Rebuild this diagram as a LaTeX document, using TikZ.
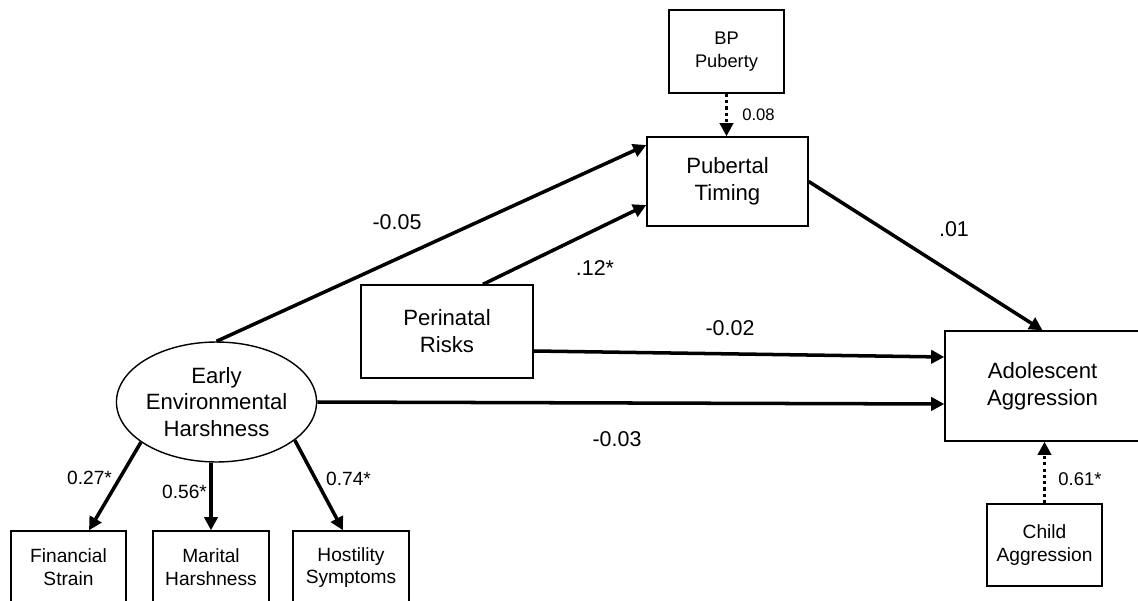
\documentclass[tikz,border=0pt]{standalone}
\usepackage{fontspec}
\setmainfont{Liberation Sans}
\usetikzlibrary{shapes.geometric,arrows.meta}

\tikzset{
  box/.style={draw, line width=0.8pt, rectangle, inner sep=0pt, align=center},
  bigtxt/.style={font=\fontsize{12.6}{15.3}\selectfont},
  smalltxt/.style={font=\fontsize{10.9}{13}\selectfont},
  path/.style={line width=2pt, -{Triangle[length=7.5pt,width=7.5pt]}},
  dotpath/.style={line width=2pt, dash pattern=on 1.8pt off 1.8pt, -{Triangle[length=7.5pt,width=7.5pt]}},
  coef/.style={font=\fontsize{12.2}{14}\selectfont, inner sep=0pt},
  loading/.style={font=\fontsize{10.9}{13}\selectfont, inner sep=0pt},
}

\begin{document}
\begin{tikzpicture}[x=0.02cm, y=-0.02cm]
\useasboundingbox (0,0) rectangle (1138,601);

% observed and latent variables
\node[box, font=\fontsize{10.4}{13}\selectfont, minimum width=2.3cm, minimum height=1.66cm] (bp) at (726.5,51.5) {BP\\Puberty};
\node[box, bigtxt, minimum width=3.22cm, minimum height=1.78cm] (pub) at (727.5,181.5) {Pubertal\\Timing};
\node[box, bigtxt, minimum width=3.44cm, minimum height=1.86cm] (per) at (447,331.5) {Perinatal\\Risks};
\node[box, bigtxt, minimum width=3.9cm, minimum height=2.2cm] (adol) at (1042.5,386) {Adolescent\\Aggression};
\node[box, smalltxt, minimum width=2.3cm, minimum height=1.64cm] (child) at (1044.5,545) {Child\\Aggression};
\node[draw, line width=0.8pt, ellipse, inner sep=0pt, align=center, minimum width=3.66cm, minimum height=2.4cm,
      font=\fontsize{12.6}{15}\selectfont] (ell) at (216.5,402) {Early\\Environmental\\Harshness};
\node[box, smalltxt, minimum width=2.3cm, minimum height=1.46cm] (fin) at (68.5,567.5) {Financial\\Strain};
\node[box, smalltxt, minimum width=2.32cm, minimum height=1.46cm] (mar) at (211,567.5) {Marital\\Harshness};
\node[box, smalltxt, minimum width=2.32cm, minimum height=1.46cm] (hos) at (351,567.5) {Hostility\\Symptoms};

% structural paths
\draw[path] (ell.north) -- ([yshift=0.73cm]pub.west);
\draw[path] ([xshift=0.72cm]per.north) -- ([yshift=-0.47cm]pub.west);
\draw[path] (pub.east) -- (adol.north);
\draw[path] ([yshift=-0.39cm]per.east) -- ([yshift=0.58cm]adol.west);
\draw[path] (ell.east) -- ([yshift=-0.36cm]adol.west);

% control paths
\draw[dotpath] (bp.south) -- (bp.south |- pub.north);
\draw[dotpath] (child.north) -- (child.north |- adol.south);

% measurement paths
\draw[path] (ell.208) -- ([xshift=0.41cm]fin.north);
\draw[path] (ell.south -| mar.north) -- (mar.north);
\draw[path] (ell.-26) -- ([xshift=-0.16cm]hos.north);

% coefficients
\node[coef] (c1) at (397,222) {-0.05};
\node[coef] (c2) at (595,268) {.12*};
\node[coef] (c3) at (954,229) {.01};
\node[coef] (c4) at (730,328) {-0.02};
\node[coef] (c5) at (617,439) {-0.03};
\node[inner sep=0pt, font=\fontsize{9.5}{11}\selectfont] (c6) at (758.5,115) {0.08};
\node[inner sep=0pt, font=\fontsize{10.5}{12}\selectfont] (c7) at (1080,479) {0.61*};
\node[loading] (l1) at (89.5,478) {0.27*};
\node[loading] (l2) at (184.5,492) {0.56*};
\node[loading] (l3) at (348.5,479) {0.74*};
\end{tikzpicture}
\end{document}
